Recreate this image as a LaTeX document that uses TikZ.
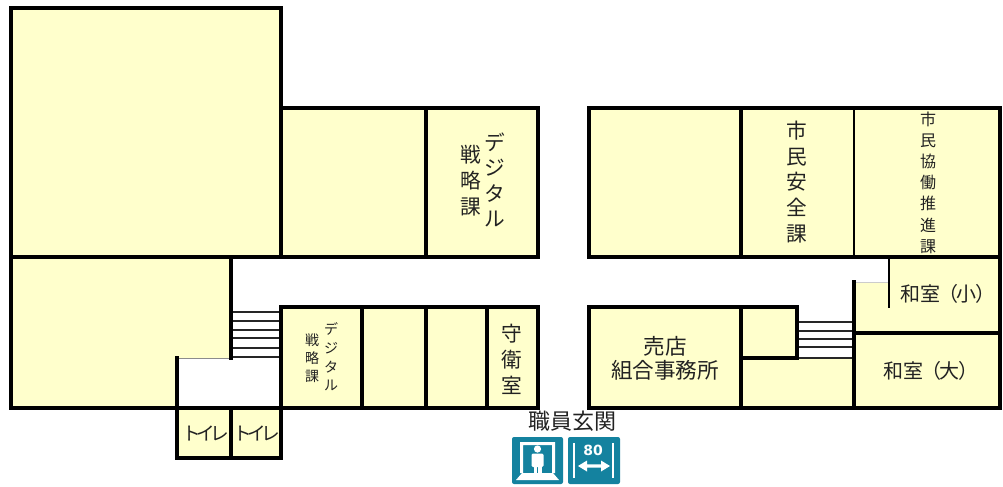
\documentclass[tikz,border=0pt]{standalone}
\usepackage{fontspec}
\usetikzlibrary{arrows.meta}
\setmainfont{Noto Sans CJK JP}
\newfontfamily\digitfont{DejaVu Sans}
\definecolor{room}{HTML}{FFFFCC}
\definecolor{wall}{HTML}{000000}
\definecolor{ink}{HTML}{222222}
\definecolor{teal}{HTML}{14829F}
\tikzset{
  thick wall/.style={draw=wall,line width=3pt,line cap=rect},
  mid wall/.style={draw=wall,line width=2.4pt,line cap=butt},
  thin wall/.style={draw=wall,line width=1.2pt,line cap=butt},
  tread/.style={draw=black!85,line width=1.1pt},
  label/.style={inner sep=0pt,text=ink,align=center},
  vert/.style 2 args={label,font=\fontsize{#1}{#2}\selectfont},
  icon/.style={fill=teal,rounded corners=1.5pt,draw=none},
  glyph/.style={fill=white,draw=none},
  glyphline/.style={draw=white,line width=1.5pt}
}
\begin{document}
\begin{tikzpicture}[x=0.75pt,y=-0.75pt]
\useasboundingbox (0,0) rectangle (1003,486);
% floors
\fill[room] (11,8) rectangle (281,257);
\fill[room] (281,108) rectangle (538,257);
\fill[room] (11,257) -- (231,257) -- (231,358) -- (177,358) -- (177,408) -- (11,408) -- cycle;
\fill[room] (281,307) rectangle (538,408);
\fill[room] (177,408) rectangle (281,458);
\fill[room] (589,108) rectangle (1000,257);
\fill[room] (589,307) rectangle (741,408);
\fill[room] (741,307) rectangle (797,358);
\fill[room] (741,358) rectangle (854,408);
\fill[room] (854,282) rectangle (889,333);
\fill[room] (889,257) rectangle (1000,333);
\fill[room] (854,333) rectangle (1000,408);
% stairs
\foreach \y in {312,321,330,338,348,357} \draw[tread] (231,\y) -- (281,\y);
\foreach \y in {322,331,339,347,358} \draw[tread] (797,\y) -- (852,\y);
\draw[draw=black!45,line width=.6pt] (177,358) -- (231,358);
\draw[draw=black!20,line width=.6pt] (854,282) -- (889,282);
% west walls
\draw[thick wall] (281,257) -- (11,257) -- (11,8) -- (281,8) -- (281,257);
\draw[thick wall] (281,108) -- (538,108) -- (538,257) -- (281,257);
\draw[thick wall] (426,108) -- (426,257);
\draw[thick wall] (231,257) -- (231,358);
\draw[thick wall] (11,257) -- (11,408) -- (538,408) -- (538,307) -- (281,307) -- (281,408);
\draw[thick wall] (177,358) -- (177,458) -- (281,458) -- (281,408);
\draw[thick wall] (231,408) -- (231,458);
\draw[thick wall] (362,307) -- (362,408);
\draw[mid wall] (426,307) -- (426,408);
\draw[mid wall] (487,307) -- (487,408);
% east walls
\draw[thick wall] (589,108) rectangle (1000,257);
\draw[thick wall] (741,108) -- (741,257);
\draw[thin wall] (854,108) -- (854,257);
\draw[thick wall] (1000,257) -- (1000,408) -- (589,408) -- (589,307) -- (797,307) -- (797,358) -- (741,358);
\draw[thick wall] (741,307) -- (741,408);
\draw[thick wall] (854,282) -- (854,408);
\draw[thick wall] (854,333) -- (1000,333);
\draw[thin wall] (889,257) -- (889,308);
% labels
\node[vert={15.5}{19}] (dejiA) at (495,180) {デ\\ジ\\タ\\ル};
\node[vert={15.5}{19.5}] (senA) at (471,181) {戦\\略\\課};
\node[vert={15.5}{19.2}] (anzen) at (797,182) {市\\民\\安\\全\\課};
\node[vert={12}{15.9}] (kyodo) at (928,182.5) {市\\民\\協\\働\\推\\進\\課};
\node[vert={15.5}{19.5}] (shuei) at (512,359) {守\\衛\\室};
\node[vert={10.5}{14}] (dejiB) at (331,357) {デ\\ジ\\タ\\ル};
\node[vert={10.5}{13.5}] (senB) at (312,358) {戦\\略\\課};
\node[label,font=\fontsize{16.2}{18}\selectfont] (baiten) at (665,358) {売店\\組合事務所};
\node[label,font=\fontsize{15}{18}\selectfont] (washoS) at (948,294) {和室\kern-1.5pt（\kern-1.5pt 小\kern-.5pt）};
\node[label,font=\fontsize{15}{18}\selectfont] (washoL) at (931,371) {和室\kern-1.5pt（\kern-1.5pt 大\kern-.5pt）};
\node[label,font=\fontsize{14}{16}\selectfont] (toiA) at (206,433) {ト\kern-3.5pt イ\kern-3.5pt レ};
\node[label,font=\fontsize{14}{16}\selectfont] (toiB) at (257,433) {ト\kern-3.5pt イ\kern-3.5pt レ};
\node[label,font=\fontsize{16.5}{18}\selectfont] (genkan) at (572,421) {職員玄関};
% elevator icon
\fill[icon] (512,437) rectangle (563,484);
\fill[glyph,even odd rule] (520,442) rectangle (555,473) (523,445) rectangle (552,473);
\fill[glyph] (522,473) -- (553,473) -- (559,480) -- (516,480) -- cycle;
\fill[glyph] (537.5,449) circle (3.6);
\fill[glyph,rounded corners=1pt] (531.5,453.5) rectangle (543.5,467);
\fill[glyph] (533.5,465) rectangle (537,476);
\fill[glyph] (538,465) rectangle (541.5,476);
% width icon
\fill[icon] (568,437) rectangle (620,484);
\draw[glyphline] (574,443) -- (574,478);
\draw[glyphline] (613,443) -- (613,478);
\fill[glyph] (578,466) -- (587,460.5) -- (587,464.3) -- (601,464.3) -- (601,460.5) -- (610,466) -- (601,471.5) -- (601,467.7) -- (587,467.7) -- (587,471.5) -- cycle;
\node[inner sep=0pt,text=white,font=\fontsize{10.5}{11}\selectfont\digitfont\bfseries] (eighty) at (593,450) {80};
\end{tikzpicture}
\end{document}
